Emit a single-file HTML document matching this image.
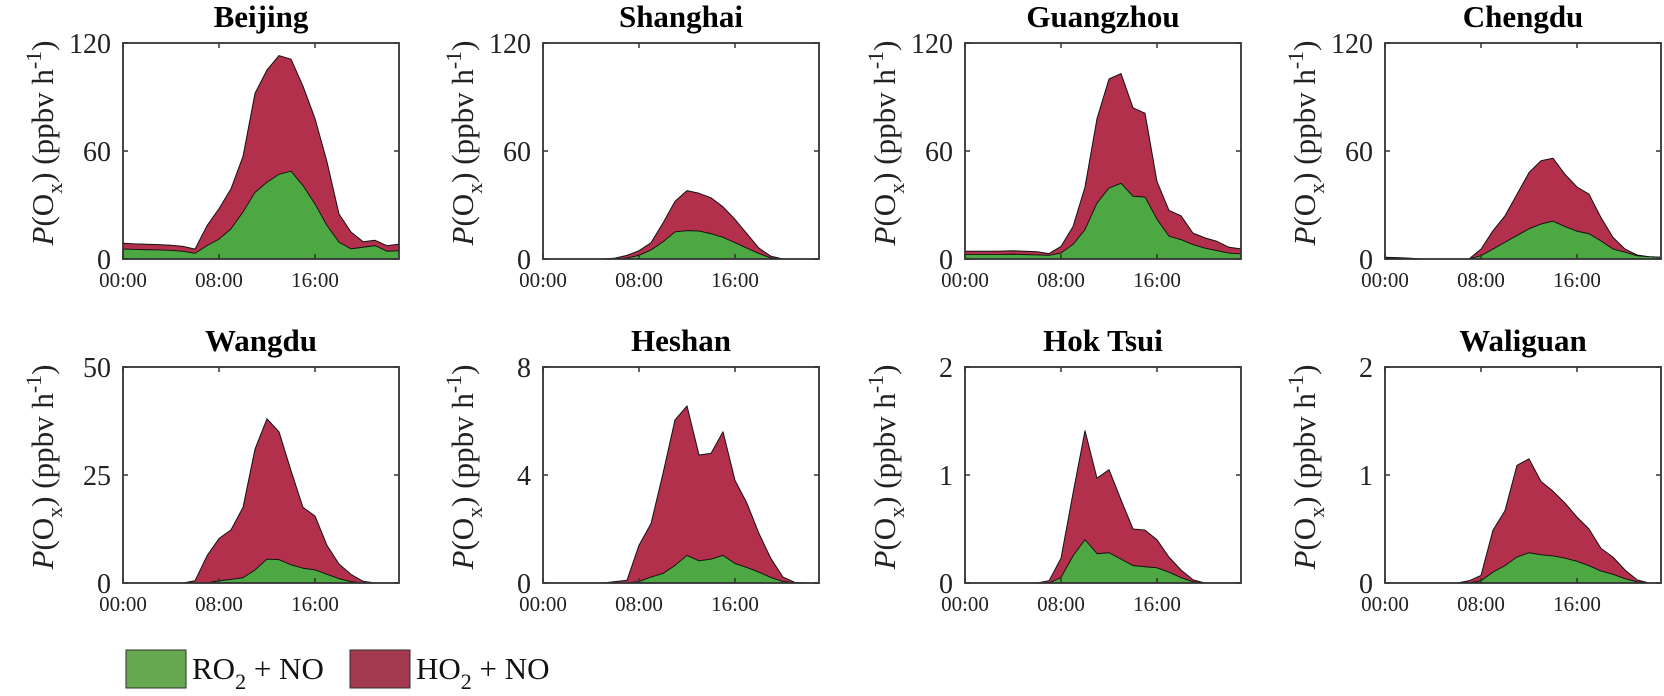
<!DOCTYPE html>
<html><head><meta charset="utf-8"><title>P(Ox) diurnal profiles</title>
<style>
html,body{margin:0;padding:0;background:#fff;}
svg{display:block;font-family:"Liberation Serif","Times New Roman",serif;}
</style></head>
<body>
<svg id="chart" width="1664" height="696" viewBox="0 0 1664 696" xmlns="http://www.w3.org/2000/svg">
  <g id="panels"></g>
  <g id="legend">
    <rect x="126" y="650" width="60" height="38" fill="#66a84f" stroke="#2e2e2e" stroke-width="1"/>
    <text x="192" y="679" font-size="31" fill="#111">RO<tspan dy="10" font-size="22">2</tspan><tspan dy="-10"> + NO</tspan></text>
    <rect x="350" y="650" width="60" height="38" fill="#a33a4f" stroke="#2e2e2e" stroke-width="1"/>
    <text x="416" y="679" font-size="31" fill="#111">HO<tspan dy="10" font-size="22">2</tspan><tspan dy="-10"> + NO</tspan></text>
  </g>
</svg>
<script>
// ---- data ----
const hours = [0,1,2,3,4,5,6,7,8,9,10,11,12,13,14,15,16,17,18,19,20,21,22,23];
const xTickHours = [0, 8, 16];
const xTickLabels = ["00:00", "08:00", "16:00"];
const siteNames = ["Beijing","Shanghai","Guangzhou","Chengdu","Wangdu","Heshan","Hok Tsui","Waliguan"];
const yMaxes = [120,120,120,120,50,8,2,2];
const yTicks = [[0,60,120],[0,60,120],[0,60,120],[0,60,120],[0,25,50],[0,4,8],[0,1,2],[0,1,2]];

// RO2 + NO contribution (ppbv/h)
const ro2Beijing   = [5.5,5.3,5.1,5,4.7,4.2,3.1,7.4,11,16.7,26,37,42.6,47,48.7,40.7,30.5,18.5,9.3,5.6,6.5,7.4,4.3,4.6];
const ro2Shanghai  = [0,0,0,0,0,0,0,0.5,2,5,9.5,15,15.7,15.5,14,12,9,6,3,0.5,0,0,0,0];
const ro2Guangzhou = [2.5,2.5,2.5,2.5,2.6,2.4,2.2,2.0,3.3,8,16.3,31,39.4,42,34.8,34.4,22,12.6,10.7,8,6,4.6,3.3,2.8];
const ro2Chengdu   = [0.5,0.4,0.3,0,0,0,0,0,1.8,5.5,9.3,13,16.7,19.4,21,18,15.4,14,10,5.5,3.7,1.8,1.3,0.9];
const ro2Wangdu    = [0,0,0,0,0,0,0,0,0.5,0.8,1.2,3,5.5,5.4,4.2,3.4,3,2,1,0.3,0,0,0,0];
const ro2Heshan    = [0,0,0,0,0,0,0,0,0.05,0.22,0.35,0.65,1.02,0.82,0.88,1.02,0.72,0.57,0.4,0.2,0.05,0,0,0];
const ro2HokTsui   = [0,0,0,0,0,0,0,0,0.05,0.25,0.4,0.27,0.28,0.22,0.16,0.15,0.14,0.1,0.05,0.01,0,0,0,0];
const ro2Waliguan  = [0,0,0,0,0,0,0,0,0.02,0.1,0.16,0.24,0.28,0.26,0.25,0.23,0.2,0.16,0.11,0.08,0.04,0.01,0,0];

// HO2 + NO contribution (ppbv/h)
const ho2Beijing   = [3.2,3.1,3.1,3,2.9,2.8,2.4,11.1,17,22.3,31,55,62.4,66,62.3,55.3,47.5,35.5,15.7,9.4,3.1,3,3.1,3.7];
const ho2Shanghai  = [0,0,0,0,0,0,0.5,1.5,2.6,4,10.5,17,22.3,21,20,17,13,8,3,1,0,0,0,0];
const ho2Guangzhou = [1.8,1.8,1.8,1.9,2.0,1.9,1.8,1.0,3.7,10,23.7,47,60.6,61,49.2,46.6,21,14.4,13.3,6.4,5.7,5.2,3.2,2.8];
const ho2Chengdu   = [0.5,0.4,0.2,0,0,0,0,0,3.7,10.2,14.7,23,31.3,35.2,35,29,24.6,22,13,6.5,1.8,0.4,0,0.1];
const ho2Wangdu    = [0,0,0,0,0,0,0.5,6.3,9.8,11.5,16.3,28,32.5,29.6,21.8,14.1,12.5,6.7,3.4,1.7,0.4,0,0,0];
const ho2Heshan    = [0,0,0,0,0,0,0.05,0.1,1.35,1.98,3.71,5.39,5.54,3.92,3.92,4.58,3.08,2.38,1.43,0.7,0.17,0.02,0,0];
const ho2HokTsui   = [0,0,0,0,0,0,0,0.02,0.18,0.58,1.01,0.7,0.77,0.55,0.34,0.34,0.26,0.14,0.07,0.02,0,0,0,0];
const ho2Waliguan  = [0,0,0,0,0,0,0,0.02,0.05,0.39,0.51,0.85,0.87,0.68,0.6,0.51,0.41,0.34,0.21,0.16,0.08,0.02,0,0];

const ro2Series = [ro2Beijing,ro2Shanghai,ro2Guangzhou,ro2Chengdu,ro2Wangdu,ro2Heshan,ro2HokTsui,ro2Waliguan];
const ho2Series = [ho2Beijing,ho2Shanghai,ho2Guangzhou,ho2Chengdu,ho2Wangdu,ho2Heshan,ho2HokTsui,ho2Waliguan];

// ---- layout ----
const NS = "http://www.w3.org/2000/svg";
const colLefts = [123, 543, 965, 1385];
const rowTops = [43, 367];
const PW = 276, PH = 216;
const X_MAX = 23;
const GREEN = "#4da843", RED = "#b3304c";
const root = document.getElementById("panels");

function mk(tag, attrs, parent) {
  const e = document.createElementNS(NS, tag);
  for (const k in attrs) e.setAttribute(k, attrs[k]);
  parent.appendChild(e);
  return e;
}

siteNames.forEach((name, i) => {
  const L = colLefts[i % 4], T = rowTops[Math.floor(i / 4)], B = T + PH, R = L + PW;
  const ymax = yMaxes[i];
  const xs = h => L + h / X_MAX * PW;
  const ys = v => B - v / ymax * PH;
  const slug = name.toLowerCase().replace(/\s+/g, "-");

  const g = mk("g", {}, root);
  
  

  const ro2 = ro2Series[i], ho2 = ho2Series[i];
  const total = ro2.map((v, k) => v + ho2[k]);

  let dRed = "M" + hours.map((h, k) => xs(h).toFixed(1) + "," + ys(total[k]).toFixed(1)).join("L");
  for (let k = hours.length - 1; k >= 0; k--) dRed += "L" + xs(hours[k]).toFixed(1) + "," + ys(ro2[k]).toFixed(1);
  dRed += "Z";
  const red = mk("path", {d: dRed, fill: RED, stroke: "#111", "stroke-width": "1", "stroke-linejoin": "round"}, g);
  
  

  let dGreen = "M" + xs(hours[0]).toFixed(1) + "," + ys(0).toFixed(1);
  hours.forEach((h, k) => { dGreen += "L" + xs(h).toFixed(1) + "," + ys(ro2[k]).toFixed(1); });
  dGreen += "L" + xs(hours[hours.length - 1]).toFixed(1) + "," + ys(0).toFixed(1) + "Z";
  const green = mk("path", {d: dGreen, fill: GREEN, stroke: "#111", "stroke-width": "0.8", "stroke-linejoin": "round"}, g);
  
  

  const box = mk("rect", {x: L, y: T, width: PW, height: PH, fill: "none", stroke: "#333", "stroke-width": "1.8"}, g);
  
  

  xTickHours.forEach((h, k) => {
    const x = xs(h);
    mk("line", {x1: x, y1: B, x2: x, y2: B - 5, stroke: "#333", "stroke-width": "1.5"}, g);
    mk("line", {x1: x, y1: T, x2: x, y2: T + 5, stroke: "#333", "stroke-width": "1.5"}, g);
    const t = mk("text", {x: x, y: B + 28, "text-anchor": "middle", "font-size": "21", fill: "#222"}, g);
    t.textContent = xTickLabels[k];
    
    
  });

  yTicks[i].forEach(v => {
    const y = ys(v);
    mk("line", {x1: L, y1: y, x2: L + 5, y2: y, stroke: "#333", "stroke-width": "1.5"}, g);
    mk("line", {x1: R, y1: y, x2: R - 5, y2: y, stroke: "#333", "stroke-width": "1.5"}, g);
    const t = mk("text", {x: L - 12, y: y + 10, "text-anchor": "end", "font-size": "28", fill: "#222"}, g);
    t.textContent = String(v);
    
    
  });

  const title = mk("text", {x: L + PW / 2, y: T - 16, "text-anchor": "middle", "font-size": "31", "font-weight": "bold", fill: "#000"}, g);
  title.textContent = name;
  
  

  const cx = L - 80, cy = T + PH / 2 - 8;
  const yl = mk("text", {x: 0, y: 0, "text-anchor": "middle", "font-size": "31", fill: "#222",
    transform: "translate(" + cx + "," + cy + ") rotate(-90)"}, g);
  
  
  const s1 = mk("tspan", {"font-style": "italic", dy: "10"}, yl); s1.textContent = "P";
  const s2 = mk("tspan", {}, yl); s2.textContent = "(O";
  const s3 = mk("tspan", {dy: "9", "font-size": "22"}, yl); s3.textContent = "x";
  const s4 = mk("tspan", {dy: "-9"}, yl); s4.textContent = ") (ppbv h";
  const s5 = mk("tspan", {dy: "-12", "font-size": "22"}, yl); s5.textContent = "-1";
  const s6 = mk("tspan", {dy: "12"}, yl); s6.textContent = ")";
});
</script>
</body></html>
